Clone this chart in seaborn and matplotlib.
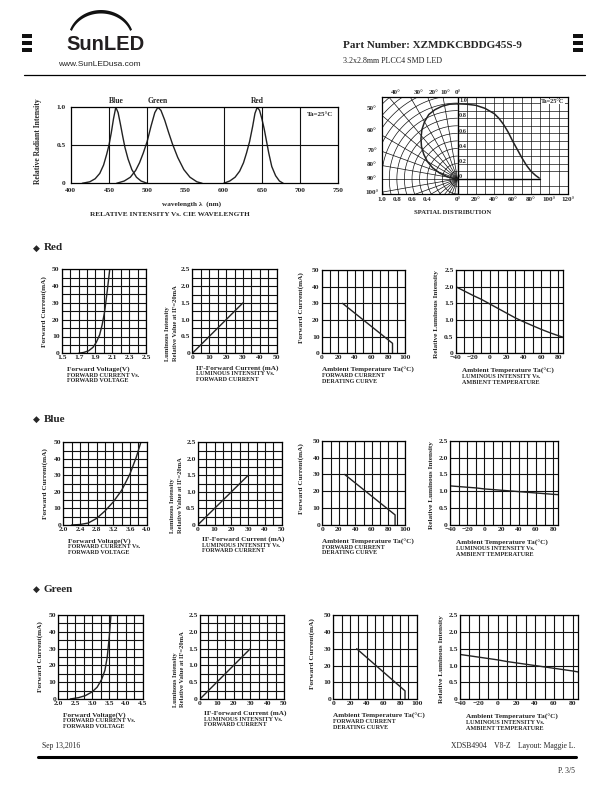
import numpy as np
import matplotlib
matplotlib.use("Agg")
import matplotlib.pyplot as plt
import seaborn as sns
from matplotlib.patches import Polygon, Rectangle

# ------------------------------------------------------------------ data
# Spectrum (relative radiant intensity vs wavelength)
blue_wl = [415, 425, 432, 438, 443, 447, 450, 453, 456, 459, 462, 465, 468, 471, 475, 480, 486, 492, 500]
blue_int = [0.0, 0.02, 0.06, 0.13, 0.24, 0.38, 0.50, 0.66, 0.85, 1.0, 0.93, 0.78, 0.62, 0.47, 0.32, 0.18, 0.08, 0.03, 0.0]
green_wl = [460, 470, 478, 485, 490, 495, 500, 505, 510, 514, 518, 523, 528, 533, 540, 548, 556, 565, 572]
green_int = [0.0, 0.03, 0.08, 0.17, 0.27, 0.40, 0.55, 0.75, 0.93, 1.0, 0.96, 0.83, 0.67, 0.52, 0.34, 0.18, 0.08, 0.02, 0.0]
red_wl = [600, 608, 615, 621, 626, 630, 634, 638, 641, 644, 647, 650, 653, 656, 659, 663, 668, 673, 678]
red_int = [0.0, 0.03, 0.08, 0.16, 0.27, 0.40, 0.55, 0.75, 0.92, 1.0, 0.96, 0.85, 0.72, 0.56, 0.40, 0.22, 0.10, 0.03, 0.0]
spec_names = ["Blue", "Green", "Red"]
spec_peaks = [460, 514, 644]
spec_xticks = [400, 450, 500, 550, 600, 650, 700, 750]

# Spatial distribution
rect_angle = [0, 10, 20, 30, 40, 45, 50, 55, 60, 65, 70, 75, 80, 85, 89]
rect_value = [0.99, 0.985, 0.97, 0.93, 0.86, 0.80, 0.72, 0.62, 0.50, 0.39, 0.28, 0.18, 0.10, 0.045, 0.01]
polar_theta = [0, 6, 12, 18, 24, 30, 36, 42, 48, 54, 60, 66, 72, 78, 84, 90]
polar_r = [0.99, 0.99, 0.98, 0.96, 0.93, 0.87, 0.80, 0.72, 0.64, 0.55, 0.46, 0.36, 0.25, 0.14, 0.06, 0.0]

# Forward current vs forward voltage
red_iv_v = [1.70, 1.76, 1.82, 1.87, 1.91, 1.95, 1.98, 2.01, 2.04, 2.07]
red_iv_i = [0, 0.5, 1.5, 3.5, 6.5, 11, 17, 25, 37, 50]
blue_iv_v = [2.2, 2.4, 2.6, 2.8, 3.0, 3.2, 3.4, 3.6, 3.75, 3.86]
blue_iv_i = [0, 0.3, 1.2, 4, 8.5, 14, 21, 31, 41, 50]
green_iv_v = [2.35, 2.6, 2.8, 3.0, 3.15, 3.28, 3.38, 3.45, 3.51, 3.56]
green_iv_i = [0, 0.8, 2.0, 4.2, 7, 11.5, 17, 25, 37, 50]

# Luminous intensity vs forward current
li_current = [0, 30]
li_value = [0, 1.5]

# Derating curves
red_der_t = [25, 85, 85]
red_der_i = [30, 6, 0]
blue_der_t = [27, 88, 88]
blue_der_i = [30, 6, 0]
green_der_t = [28, 86, 86]
green_der_i = [30, 5, 0]

# Luminous intensity vs ambient temperature
temp_t = [-40, -30, -20, -10, 0, 10, 20, 30, 40, 50, 60, 70, 80, 86]
red_temp_l = [2.0, 1.87, 1.74, 1.62, 1.48, 1.34, 1.2, 1.06, 0.94, 0.83, 0.72, 0.62, 0.53, 0.48]
blue_temp_l = [1.16, 1.14, 1.12, 1.10, 1.07, 1.05, 1.03, 1.01, 0.99, 0.97, 0.95, 0.93, 0.91, 0.90]
green_temp_l = [1.33, 1.29, 1.25, 1.21, 1.17, 1.12, 1.08, 1.04, 1.0, 0.96, 0.92, 0.88, 0.84, 0.81]

iv_ticklabels = {"Red": ["1.5", "1.7", "1.9", "2.1", "2.3", "2.5"],
                 "Blue": ["2.0", "2.4", "2.8", "3.2", "3.6", "4.0"],
                 "Green": ["2.0", "2.5", "3.0", "3.5", "4.0", "4.5"]}
temp_ticklabels = ["\u221240", "\u221220", "0", "20", "40", "60", "80"]

# ------------------------------------------------------------------ setup
sns.set_style("white")
plt.rcParams['font.family'] = ['Liberation Serif', 'DejaVu Serif', 'DejaVu Sans']
plt.rcParams['font.weight'] = 'bold'
plt.rcParams['axes.edgecolor'] = 'black'
plt.rcParams['axes.linewidth'] = 0.9

W, H = 612, 792
fig = plt.figure(figsize=(W / 100, H / 100), dpi=100)
fig.patch.set_facecolor('white')

LINE = '#111111'
CURVE = '#222222'


def box(l, t, r, b):
    return fig.add_axes([l / W, 1 - b / H, (r - l) / W, (b - t) / H])


def curve(ax, x, y, lw=1.0, sort=True):
    sns.lineplot(x=x, y=y, ax=ax, color=CURVE, lw=lw, sort=sort,
                 estimator=None, legend=False)


page = fig.add_axes([0, 0, 1, 1], zorder=10)
page.set_xlim(0, W)
page.set_ylim(H, 0)
page.axis('off')

# ------------------------------------------------------------------ header
th = np.linspace(np.radians(20), np.radians(160), 60)
outer = np.column_stack([101 + 33 * np.cos(th), 40 - 30 * np.sin(th)])
inner = np.column_stack([101 + 31 * np.cos(th[::-1]), 40 - 26.5 * np.sin(th[::-1])])
page.add_patch(Polygon(np.vstack([outer, inner]), closed=True, color='#111111', lw=0))
page.text(66, 44, "SunLED", fontsize=14.5, family='Liberation Sans', weight='bold',
          color='#231f20', ha='left', va='center')
page.text(58, 65, "www.SunLEDusa.com", fontsize=6, family='Liberation Sans',
          weight='normal', color='#222222', ha='left', va='center')
for x0 in (22, 573):
    for yy in (36, 43, 50):
        page.add_patch(Rectangle((x0, yy - 1.6), 10, 3.2, color='#111111', lw=0))
page.text(343, 45, "Part Number: XZMDKCBDDG45S-9", fontsize=8, weight='bold',
          ha='left', va='center')
page.text(343, 61, "3.2x2.8mm PLCC4 SMD LED", fontsize=5.8, weight='normal',
          ha='left', va='center')
page.plot([24, 585], [75, 75], color='black', lw=0.9)

# ------------------------------------------------------------------ spectrum
sax = box(70.7, 107.3, 338.3, 183.3)
curve(sax, blue_wl, blue_int)
curve(sax, green_wl, green_int)
curve(sax, red_wl, red_int)
for v in (450, 500, 600, 650, 700):
    sax.axvline(v, color=LINE, lw=0.8)
sax.axhline(0.5, color=LINE, lw=0.8)
sax.set_xlim(400, 750)
sax.set_ylim(0, 1.0)
sax.set_xticks(spec_xticks)
sax.set_xticklabels([str(v) for v in spec_xticks])
sax.set_yticks([0, 0.5, 1.0])
sax.set_yticklabels(["0", "0.5", "1.0"])
sax.tick_params(length=0, labelsize=5.3, pad=3.5)
sax.set_xlabel("")
sax.set_ylabel("")
for nm, pk in zip(spec_names, spec_peaks):
    sax.text(pk, 1.03, nm, ha='center', va='bottom', fontsize=5.5)
page.text(320, 114, "Ta=25\u00b0C", fontsize=5, ha='center', va='center')
page.text(38, 141, "Relative Radiant Intensity", rotation=90, fontsize=5.5,
          ha='center', va='center')
page.text(192, 204, "wavelength \u03bb  (nm)", fontsize=5.2, ha='center', va='center')
page.text(170, 215, "RELATIVE INTENSITY Vs. CIE WAVELENGTH", fontsize=5.2,
          ha='center', va='center')

# ------------------------------------------------------------------ spatial distribution
k = 0.917 / 75.7          # one degree on the right half, in radius units
pax = box(381.7, 97, 567.7, 194)
for a in range(10, 120, 10):
    pax.plot([a * k, a * k], [-0.2, 1.08], color=LINE, lw=0.5)
for v in np.arange(-0.1, 1.05, 0.1):
    if abs(v) > 1e-6:
        pax.plot([0, 120 * k], [v, v], color=LINE, lw=0.5)
for a in np.radians(np.arange(0, 181, 10)):
    pax.plot([0, -2 * np.sin(a)], [0, 2 * np.cos(a)], color=LINE, lw=0.5)
tt = np.linspace(0, np.pi, 120)
for r in np.arange(0.1, 1.95, 0.1):
    pax.plot(-r * np.sin(tt), r * np.cos(tt), color=LINE, lw=0.5)
pax.plot([0, 0], [-0.2, 1.08], color='black', lw=1.0)
pax.plot([0, 90 * k], [0, 0], color='black', lw=1.0)
curve(pax, [a * k for a in rect_angle], rect_value, lw=1.1)
pt = np.radians(polar_theta)
curve(pax, list(-np.array(polar_r) * np.sin(pt)), list(np.array(polar_r) * np.cos(pt)),
      lw=1.1, sort=False)
pax.set_xlim(-1.0, 120 * k)
pax.set_ylim(-0.2, 1.08)
pax.set_xticks([-1.0, -0.8, -0.6, -0.4] + [a * k for a in range(0, 121, 20)])
pax.set_xticklabels(["1.0", "0.8", "0.6", "0.4"] + [f"{a}\u00b0" for a in range(0, 121, 20)])
pax.set_yticks([])
pax.tick_params(length=0, labelsize=5, pad=2)
pax.set_xlabel("")
pax.set_ylabel("")
for v, lab in zip([1.0, 0.8, 0.6, 0.4, 0.2, 0.0], ["1.0", "0.8", "0.6", "0.4", "0.2", "0"]):
    pax.text(0.02, v + 0.03, lab, fontsize=4.5, ha='left', va='center')
page.text(553, 101.5, "Ta=25\u00b0C", fontsize=4.5, ha='center', va='center',
          bbox=dict(facecolor='white', edgecolor='none', pad=0.3))
for lab, xx in zip(["40\u00b0", "30\u00b0", "20\u00b0", "10\u00b0", "0\u00b0"],
                   [395.5, 419, 434, 445.5, 457.5]):
    page.text(xx, 92.5, lab, fontsize=5, ha='center', va='center')
for lab, yy in zip(["50\u00b0", "60\u00b0", "70\u00b0", "80\u00b0", "90\u00b0", "100\u00b0"],
                   [108, 131, 150.5, 165, 178.5, 192]):
    page.text(372, yy, lab, fontsize=5, ha='center', va='center')
page.text(453, 212, "SPATIAL DISTRIBUTION", fontsize=4.8, ha='center', va='center')

# ------------------------------------------------------------------ small charts


def small(l, t, r, b, xlim, ylim, xticks, xlabels, yticks, ylabels, xgrid, ygrid):
    ax = box(l, t, r, b)
    for v in xgrid:
        ax.axvline(v, color=LINE, lw=0.8)
    for v in ygrid:
        ax.axhline(v, color=LINE, lw=0.8)
    ax.set_xlim(*xlim)
    ax.set_ylim(*ylim)
    ax.set_xticks(xticks)
    ax.set_xticklabels(xlabels)
    ax.set_yticks(yticks)
    ax.set_yticklabels(ylabels)
    ax.tick_params(length=0, labelsize=5.4, pad=1.5)
    return ax


def texts(x, y0, lines, sizes):
    yy = y0
    for i, (s, fs) in enumerate(zip(lines, sizes)):
        page.text(x, yy, s, fontsize=fs, ha='left', va='center')
        yy += 6 if i == 0 else 5.5


rows = [
    dict(name="Red", head=248,
         c1=(61.7, 269.3, 146, 353.3), c2=(192.3, 269.3, 276.7, 353.3),
         c3=(321.7, 270, 405, 353.3), c4=(455.7, 270, 563.3, 353.3),
         iv=(red_iv_v, red_iv_i), ivx=(1.5, 2.5), der=(red_der_t, red_der_i),
         temp=red_temp_l),
    dict(name="Blue", head=419.5,
         c1=(63.3, 442.3, 146.7, 525), c2=(197.7, 442.3, 281.7, 525),
         c3=(322.3, 440.7, 405, 525), c4=(450, 440.7, 558.3, 525),
         iv=(blue_iv_v, blue_iv_i), ivx=(2.0, 4.0), der=(blue_der_t, blue_der_i),
         temp=blue_temp_l),
    dict(name="Green", head=589.5,
         c1=(58.3, 615, 142.7, 699), c2=(200, 615, 284, 699),
         c3=(333.3, 615, 416.7, 699.3), c4=(460, 615, 578.3, 699.3),
         iv=(green_iv_v, green_iv_i), ivx=(2.0, 4.5), der=(green_der_t, green_der_i),
         temp=green_temp_l),
]

for row in rows:
    page.text(33, row['head'], "\u25c6", fontsize=6.5, family='DejaVu Sans',
              ha='left', va='center')
    page.text(44, row['head'], row['name'], fontsize=8, ha='left', va='center')

    # chart 1: IV
    l, t, r, b = row['c1']
    x0, x1 = row['ivx']
    ax = small(l, t, r, b, (x0, x1), (0, 50),
               np.linspace(x0, x1, 6), iv_ticklabels[row['name']],
               np.arange(0, 51, 10), [str(v) for v in range(0, 51, 10)],
               np.linspace(x0, x1, 11), np.arange(0, 51, 5))
    curve(ax, *row['iv'])
    ax.set_xlim(x0, x1); ax.set_ylim(0, 50)
    ax.set_xlabel(""); ax.set_ylabel("")
    page.text(l - 18, (t + b) / 2, "Forward Current(mA)", rotation=90, fontsize=5.2,
              ha='center', va='center')
    texts(l + 5, b + 16, ["Forward Voltage(V)", "FORWARD CURRENT Vs.", "FORWARD VOLTAGE"],
          [5.2, 4.4, 4.4])

    # chart 2: luminous intensity vs current
    l, t, r, b = row['c2']
    ax = small(l, t, r, b, (0, 50), (0, 2.5),
               np.arange(0, 51, 10), [str(v) for v in range(0, 51, 10)],
               [0, 0.5, 1.0, 1.5, 2.0, 2.5], ["0", "0.5", "1.0", "1.5", "2.0", "2.5"],
               np.arange(0, 51, 5), np.arange(0, 2.51, 0.25))
    curve(ax, li_current, li_value)
    ax.set_xlim(0, 50); ax.set_ylim(0, 2.5)
    ax.set_xlabel(""); ax.set_ylabel("")
    page.text(l - 25, b + 8, "Luminous Intensity", rotation=90, fontsize=4.7,
              ha='center', va='bottom')
    page.text(l - 17, b + 8, "Relative Value at IF=20mA", rotation=90, fontsize=4.7,
              ha='center', va='bottom')
    texts(l + 4, b + 14.5, ["IF-Forward Current (mA)", "LUMINOUS INTENSITY Vs.",
                            "FORWARD CURRENT"], [5.2, 4.4, 4.4])

    # chart 3: derating
    l, t, r, b = row['c3']
    ax = small(l, t, r, b, (0, 100), (0, 50),
               np.arange(0, 101, 20), [str(v) for v in range(0, 101, 20)],
               np.arange(0, 51, 10), [str(v) for v in range(0, 51, 10)],
               np.arange(0, 101, 10), np.arange(0, 51, 10))
    curve(ax, *row['der'], sort=False)
    ax.set_xlim(0, 100); ax.set_ylim(0, 50)
    ax.set_xlabel(""); ax.set_ylabel("")
    page.text(l - 21, (t + b) / 2 - 4, "Forward Current(mA)", rotation=90, fontsize=5.2,
              ha='center', va='center')
    texts(l, b + 16.5, ["Ambient Temperature Ta(\u00b0C)", "FORWARD CURRENT",
                        "DERATING CURVE"], [5.2, 4.4, 4.4])

    # chart 4: luminous intensity vs temperature
    l, t, r, b = row['c4']
    ax = small(l, t, r, b, (-40, 86), (0, 2.5),
               np.arange(-40, 81, 20), temp_ticklabels,
               [0, 0.5, 1.0, 1.5, 2.0, 2.5], ["0", "0.5", "1.0", "1.5", "2.0", "2.5"],
               np.arange(-40, 81, 10), np.arange(0, 2.51, 0.5))
    curve(ax, temp_t, row['temp'])
    ax.set_xlim(-40, 86); ax.set_ylim(0, 2.5)
    ax.set_xlabel(""); ax.set_ylabel("")
    page.text(l - 19, (t + b) / 2 + 2, "Relative Luminous Intensity", rotation=90,
              fontsize=5.2, ha='center', va='center')
    texts(l + 6, b + 17.5, ["Ambient Temperature Ta(\u00b0C)", "LUMINOUS INTENSITY Vs.",
                            "AMBIENT TEMPERATURE"], [5.2, 4.4, 4.4])

# ------------------------------------------------------------------ footer
page.text(42, 746, "Sep 13,2016", fontsize=5.5, weight='normal', ha='left', va='center')
page.text(575, 746, "XDSB4904    V8-Z    Layout: Maggie L.", fontsize=5.5, weight='normal',
          ha='right', va='center')
page.plot([38, 576], [757, 757], color='black', lw=2.2)
page.text(575, 771, "P. 3/5", fontsize=5.5, weight='normal', ha='right', va='center')

fig.savefig("out.png", dpi=100, facecolor='white')
